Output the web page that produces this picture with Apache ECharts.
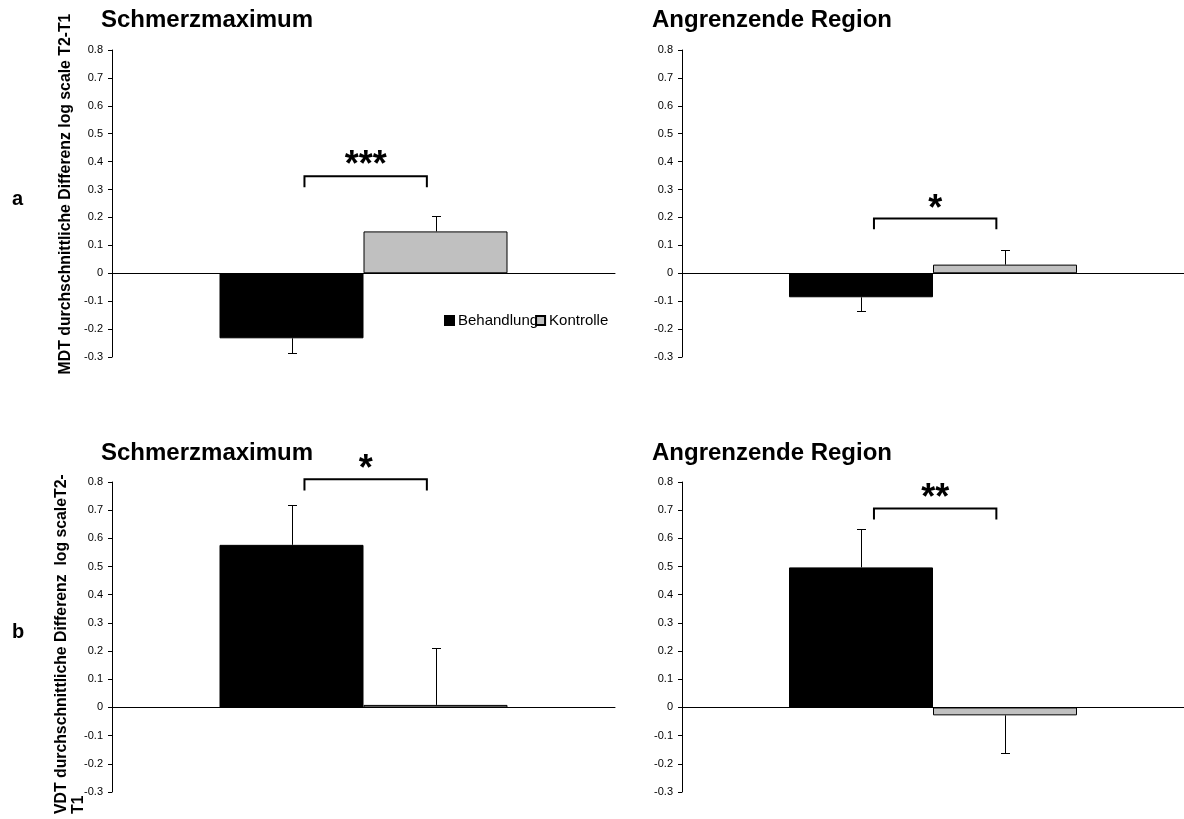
<!DOCTYPE html>
<html>
<head>
<meta charset="utf-8">
<script src="https://cdn.jsdelivr.net/npm/echarts@6/dist/echarts.min.js"></script>
<style>
html,body{margin:0;padding:0;background:#fff;}
#chart{width:1184px;height:819px;}
</style>
</head>
<body>
<div id="chart"></div>
<script>
// ---- data ----
const categories = [''];
const panelTitles = ['Schmerzmaximum', 'Angrenzende Region', 'Schmerzmaximum', 'Angrenzende Region'];
const seriesNames = ['Behandlung', 'Kontrolle'];
const behandlung = [-0.233, -0.086, 0.577, 0.497];
const kontrolle = [0.15, 0.031, 0.009, -0.028];
const behandlungErrEnd = [-0.287, -0.136, 0.72, 0.635];
const kontrolleErrEnd = [0.204, 0.082, 0.21, -0.162];
const sigLabels = ['***', '*', '*', '**'];
const bracketTop = [0.348, 0.196, 0.81, 0.706];
const bracketLegEnd = [0.308, 0.158, 0.77, 0.667];
const sigY = [0.416, 0.258, 0.875, 0.77];
const yMin = -0.3, yMax = 0.8, yStep = 0.1;
const rowLabels = ['a', 'b'];
const yAxisTitles = ['MDT durchschnittliche Differenz log scale T2-T1', 'VDT durchschnittliche Differenz  log scaleT2-\nT1'];

// ---- layout ----
const FONT = "'Liberation Sans', Arial, sans-serif";
const BAR_W = 144;
const grids = [
  {left: 112, top: 50, width: 503, height: 307},
  {left: 682, top: 50, width: 502, height: 307},
  {left: 112, top: 482, width: 503, height: 310},
  {left: 682, top: 482, width: 502, height: 310}
];
const titlePos = [
  {left: 101, top: 8}, {left: 652, top: 8}, {left: 101, top: 441}, {left: 652, top: 441}
];

const chart = echarts.init(document.getElementById('chart'), null, {renderer: 'canvas'});

const xAxes = [], yAxes = [], series = [], titles = [];
grids.forEach((g, i) => {
  xAxes.push({
    gridIndex: i, type: 'category', data: categories,
    axisLine: {onZero: true, lineStyle: {color: '#000', width: 1}},
    axisTick: {show: false}, axisLabel: {show: false}, splitLine: {show: false}
  });
  yAxes.push({
    gridIndex: i, type: 'value', min: yMin, max: yMax, interval: yStep,
    axisLine: {show: true, lineStyle: {color: '#000', width: 1}},
    axisTick: {show: true, inside: false, length: 4, lineStyle: {color: '#000'}},
    axisLabel: {color: '#000', fontSize: 11, fontFamily: FONT, margin: 9,
      formatter: v => String(Math.round(v * 10) / 10)},
    splitLine: {show: false}
  });
  titles.push({
    text: panelTitles[i], left: titlePos[i].left, top: titlePos[i].top, padding: 0,
    textStyle: {fontSize: 24, fontWeight: 'bold', color: '#000', fontFamily: FONT}
  });
  series.push({
    name: seriesNames[0], type: 'bar', xAxisIndex: i, yAxisIndex: i,
    data: [behandlung[i]], barWidth: BAR_W, barGap: '0%',
    itemStyle: {color: '#000', borderColor: '#000', borderWidth: 1}, z: 2
  });
  series.push({
    name: seriesNames[1], type: 'bar', xAxisIndex: i, yAxisIndex: i,
    data: [kontrolle[i]], barWidth: BAR_W, barGap: '0%',
    itemStyle: {color: '#c0c0c0', borderColor: '#000', borderWidth: 1}, z: 2
  });
  // error bars
  series.push({
    type: 'custom', xAxisIndex: i, yAxisIndex: i, z: 3, silent: true,
    data: [[0, behandlung[i], behandlungErrEnd[i], -1], [0, kontrolle[i], kontrolleErrEnd[i], 1]],
    renderItem: function (params, api) {
      const c = api.coord([api.value(0), api.value(1)]);
      const e = api.coord([api.value(0), api.value(2)]);
      const x = Math.round(c[0] + api.value(3) * BAR_W / 2) + 0.5;
      const ey = Math.round(e[1]) + 0.5;
      return {type: 'group', children: [
        {type: 'line', shape: {x1: x, y1: c[1], x2: x, y2: ey}, style: {stroke: '#000', lineWidth: 1}},
        {type: 'line', shape: {x1: x - 4.5, y1: ey, x2: x + 4.5, y2: ey}, style: {stroke: '#000', lineWidth: 1}}
      ]};
    }
  });
  // significance bracket
  series.push({
    type: 'custom', xAxisIndex: i, yAxisIndex: i, z: 3, silent: true, clip: false,
    data: [[0, bracketTop[i], bracketLegEnd[i], sigY[i]]],
    renderItem: (function (idx) {
      return function (params, api) {
        const t = api.coord([api.value(0), api.value(1)]);
        const l = api.coord([api.value(0), api.value(2)]);
        const s = api.coord([api.value(0), api.value(3)]);
        const x1 = t[0] - 0.41 * BAR_W, x2 = t[0] + 0.44 * BAR_W;
        return {type: 'group', children: [
          {type: 'polyline', shape: {points: [[x1, l[1]], [x1, t[1]], [x2, t[1]], [x2, l[1]]]},
            style: {stroke: '#000', lineWidth: 2, fill: null}},
          {type: 'text', x: (x1 + x2) / 2, y: s[1] + 9,
            style: {text: sigLabels[idx], font: 'bold 36px ' + FONT, fill: '#000',
              align: 'center', verticalAlign: 'middle', textAlign: 'center', textVerticalAlign: 'middle'}}
        ]};
      };
    })(i)
  });
});

const graphics = [
  {type: 'rect', shape: {x: 616, y: 40, width: 20, height: 760}, style: {fill: '#fff'}, z: 100, silent: true},
  {type: 'text', x: 12, y: 199, z: 100,
    style: {text: rowLabels[0], font: 'bold 20px ' + FONT, fill: '#000', align: 'left', verticalAlign: 'middle', textAlign: 'left', textVerticalAlign: 'middle'}},
  {type: 'text', x: 12, y: 632, z: 100,
    style: {text: rowLabels[1], font: 'bold 20px ' + FONT, fill: '#000', align: 'left', verticalAlign: 'middle', textAlign: 'left', textVerticalAlign: 'middle'}},
  {type: 'text', x: 66, y: 194, rotation: Math.PI / 2, z: 100,
    style: {text: yAxisTitles[0], font: 'bold 15.8px ' + FONT, fill: '#000', align: 'center', verticalAlign: 'middle', textAlign: 'center', textVerticalAlign: 'middle'}},
  {type: 'text', x: 53, y: 814, rotation: Math.PI / 2, z: 100,
    style: {text: yAxisTitles[1], font: 'bold 15.8px ' + FONT, fill: '#000', lineHeight: 17, align: 'left', verticalAlign: 'top', textAlign: 'left', textVerticalAlign: 'top'}}
];

chart.setOption({
  backgroundColor: '#fff',
  animation: false,
  title: titles,
  legend: {
    data: seriesNames, left: 444, top: 313, padding: 0,
    icon: 'rect', itemWidth: 9, itemHeight: 9, itemGap: -3,
    textStyle: {fontSize: 15, color: '#000', fontFamily: FONT, padding: [0, 0, 0, -1]}
  },
  grid: grids.map(g => Object.assign({containLabel: false}, g)),
  xAxis: xAxes,
  yAxis: yAxes,
  graphic: graphics,
  series: series
});
</script>
</body>
</html>
